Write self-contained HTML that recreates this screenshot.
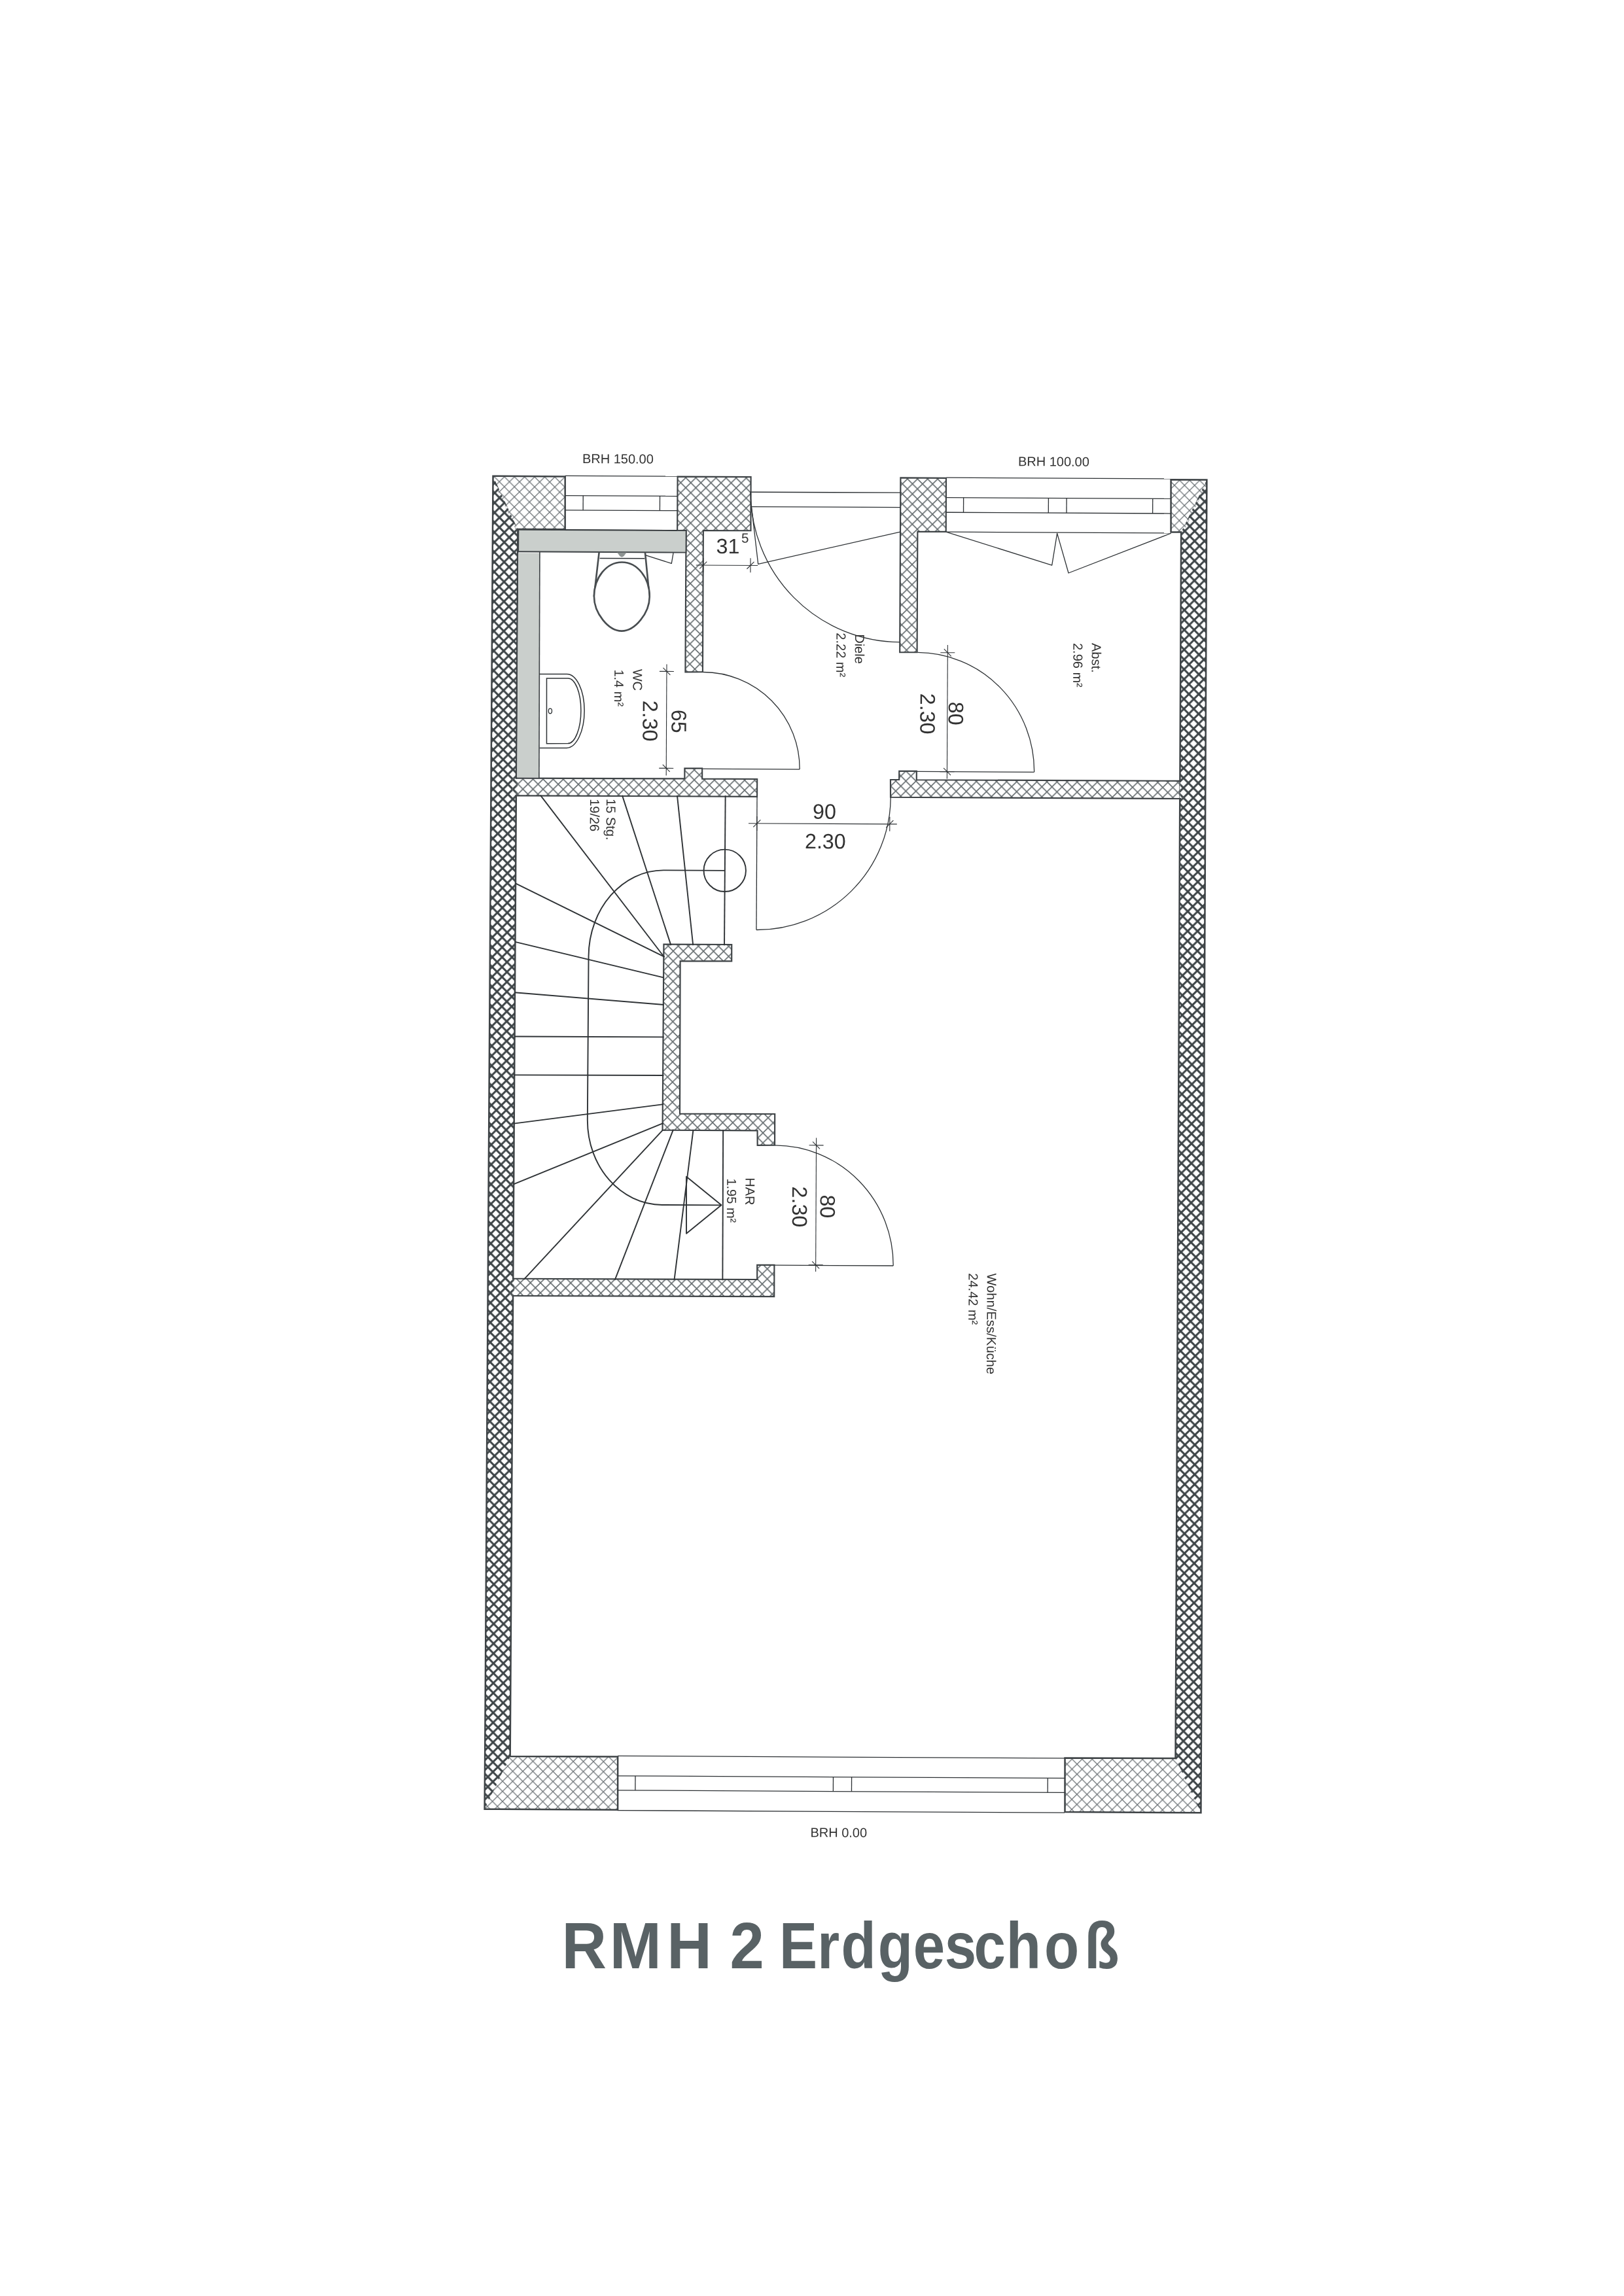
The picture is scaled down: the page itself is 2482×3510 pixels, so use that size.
<!DOCTYPE html>
<html lang="de"><head><meta charset="utf-8"><title>RMH 2 Erdgeschoß</title>
<style>html,body{margin:0;padding:0;background:#fff}body{width:2482px;height:3510px;overflow:hidden}svg{display:block}text.t{filter:none}text{filter:grayscale(1);font-family:"Liberation Sans",sans-serif;fill:#2f3336}</style>
</head><body>
<svg width="2482" height="3510" viewBox="0 0 2482 3510">
<defs>
<pattern id="ht" patternUnits="userSpaceOnUse" width="15.4" height="15.4" x="3" y="2"><path d="M0,0L15.4,15.4M15.4,0L0,15.4" stroke="#636a6d" stroke-width="1.55" fill="none"/></pattern>
<pattern id="ht2" patternUnits="userSpaceOnUse" width="15.4" height="15.4" x="3" y="2"><path d="M0,0L15.4,15.4M15.4,0L0,15.4" stroke="#6d7377" stroke-width="1.25" fill="none"/></pattern>
<pattern id="hhL" patternUnits="userSpaceOnUse" width="15.1" height="15.1" x="11.16" y="4.03"><path d="M0,0L15.1,15.1M15.1,0L0,15.1" stroke="#3d4447" stroke-width="3.0" fill="none"/></pattern>
<pattern id="hhR" patternUnits="userSpaceOnUse" width="15.1" height="15.1" x="9.24" y="11.71"><path d="M0,0L15.1,15.1M15.1,0L0,15.1" stroke="#3d4447" stroke-width="3.0" fill="none"/></pattern>
</defs>
<rect width="2482" height="3510" fill="#ffffff"/>
<g transform="translate(752.5,726.7) rotate(0.30)">
<polygon points="1,1.1 111.2,1.1 111.6,82 39.3,82 36,82 1,8.1" fill="url(#ht2)" stroke="none" stroke-width="2.4" stroke-linejoin="miter"/>
<polygon points="1037.1,1.1 1091.9,1.1 1092,8.1 1056.4,81.4 1053.1,81.4 1037.5,81.4" fill="url(#ht2)" stroke="none" stroke-width="2.4" stroke-linejoin="miter"/>
<polygon points="34.1,1958.1 37.4,1958.1 201.9,1957.8 202.3,2039 -1.2,2039 -1.3,2032" fill="url(#ht2)" stroke="none" stroke-width="2.4" stroke-linejoin="miter"/>
<polygon points="885.3,1956.3 1054.3,1955.9 1057.6,1955.9 1093.6,2031.8 1093.6,2038.8 885.7,2038.8" fill="url(#ht2)" stroke="none" stroke-width="2.4" stroke-linejoin="miter"/>
<polygon points="1,1.1 39.3,82 37.4,1958.1 -1.2,2039" fill="url(#hhL)" stroke="none" stroke-width="2.4" stroke-linejoin="miter"/>
<polygon points="1091.9,1.1 1093.6,2038.8 1054.3,1955.9 1053.1,81.4" fill="url(#hhR)" stroke="none" stroke-width="2.4" stroke-linejoin="miter"/>
<polygon points="111.2,1.1 1,1.1 -1.2,2039 202.3,2039 201.9,1957.8 37.4,1958.1 39.3,82 111.6,82" fill="none" stroke="#3e4346" stroke-width="2.5" stroke-linejoin="miter"/>
<polygon points="1037.1,1.1 1091.9,1.1 1093.6,2038.8 885.7,2038.8 885.3,1956.3 1054.3,1955.9 1053.1,81.4 1037.5,81.4" fill="none" stroke="#3e4346" stroke-width="2.5" stroke-linejoin="miter"/>
<polygon points="283.1,0.4 395.1,0.4 395.4,82.5 322.8,82.8 323,298.9 296.5,299.1 296.5,82.7 283.1,82.8" fill="url(#ht)" stroke="#3e4346" stroke-width="2.15" stroke-linejoin="miter"/>
<polygon points="623.9,0.4 693.5,0.5 693.7,82.5 650.3,82.7 650.5,267.1 624.1,267.2" fill="url(#ht)" stroke="#3e4346" stroke-width="2.15" stroke-linejoin="miter"/>
<rect x="33.7" y="463.9" width="7.5" height="24.4" fill="#ffffff"/>
<rect x="33.7" y="463.9" width="7.5" height="24.4" fill="url(#hhL)"/>
<polygon points="38.9,462.7 296.3,462.2 296.2,446.4 323,446.2 323.1,462.2 407.1,462.2 407.1,489 37.7,489.5" fill="url(#ht)" stroke="none"/>
<polyline points="38.9,462.7 296.3,462.2 296.2,446.4 323,446.2 323.1,462.2 407.1,462.2 407.1,489 37.7,489.5" fill="none" stroke="#3e4346" stroke-width="2.15" stroke-linejoin="miter"/>
<rect x="1052.7" y="462.8" width="6.3" height="24.8" fill="#ffffff"/>
<rect x="1052.7" y="462.8" width="6.3" height="24.8" fill="url(#hhR)"/>
<polygon points="1055.1,488.8 611.1,488.9 610.9,462.1 624.1,462 624.1,448.8 650.7,448.7 650.7,462.1 1054.9,461.6" fill="url(#ht)" stroke="none"/>
<polyline points="1055.1,488.8 611.1,488.9 610.9,462.1 624.1,462 624.1,448.8 650.7,448.7 650.7,462.1 1054.9,461.6" fill="none" stroke="#3e4346" stroke-width="2.15" stroke-linejoin="miter"/>
<polygon points="265.7,715.5 369.5,715.4 369.6,740.8 291,741 291.6,974.4 436.8,974 436.9,1021.8 410.5,1022 410.3,999.6 265.3,999.7" fill="url(#ht)" stroke="#3e4346" stroke-width="2.15" stroke-linejoin="miter"/>
<rect x="33.7" y="1229.1" width="6.3" height="23.8" fill="#ffffff"/>
<rect x="33.7" y="1229.1" width="6.3" height="23.8" fill="url(#hhL)"/>
<polygon points="37.7,1227.9 411.1,1227.2 411,1205 437.2,1204.8 437.3,1253.2 37.7,1254.1" fill="url(#ht)" stroke="none"/>
<polyline points="37.7,1227.9 411.1,1227.2 411,1205 437.2,1204.8 437.3,1253.2 37.7,1254.1" fill="none" stroke="#3e4346" stroke-width="2.15" stroke-linejoin="miter"/>
<polygon points="40.3,82.8 296.6,82.8 296.6,116.4 40.3,116.4" fill="#cacfcc" stroke="#3e4346" stroke-width="1.9" stroke-linejoin="miter"/>
<rect x="40.5" y="118.3" width="32.8" height="342.8" fill="#cacfcc"/>
<line x1="73" y1="116.9" x2="73.8" y2="461.9" stroke="#3e4346" stroke-width="1.6"/>
<line x1="111.2" y1="0" x2="282.8" y2="0" stroke="#2e3235" stroke-width="1.3"/>
<line x1="111.2" y1="30.3" x2="282.8" y2="30.3" stroke="#2e3235" stroke-width="1.3"/>
<line x1="111.2" y1="52.5" x2="282.8" y2="52.5" stroke="#2e3235" stroke-width="1.3"/>
<line x1="111.2" y1="82.6" x2="282.8" y2="82.6" stroke="#2e3235" stroke-width="1.3"/>
<line x1="138.9" y1="30.3" x2="138.9" y2="52.5" stroke="#2e3235" stroke-width="1.3"/>
<line x1="256.2" y1="30.3" x2="256.2" y2="52.5" stroke="#2e3235" stroke-width="1.3"/>
<line x1="694.1" y1="-0.2" x2="1037.1" y2="-0.2" stroke="#2e3235" stroke-width="1.3"/>
<line x1="694.1" y1="30.3" x2="1037.1" y2="30.3" stroke="#2e3235" stroke-width="1.3"/>
<line x1="694.1" y1="52.9" x2="1037.1" y2="52.9" stroke="#2e3235" stroke-width="1.3"/>
<line x1="694.1" y1="82.8" x2="1037.1" y2="82.8" stroke="#2e3235" stroke-width="1.3"/>
<line x1="720.3" y1="30.3" x2="720.3" y2="52.9" stroke="#2e3235" stroke-width="1.3"/>
<line x1="850.1" y1="30.3" x2="850.1" y2="52.9" stroke="#2e3235" stroke-width="1.3"/>
<line x1="877.8" y1="30.3" x2="877.8" y2="52.9" stroke="#2e3235" stroke-width="1.3"/>
<line x1="1009.4" y1="30.3" x2="1009.4" y2="52.9" stroke="#2e3235" stroke-width="1.3"/>
<line x1="201.8" y1="1956.6" x2="885.2" y2="1956.6" stroke="#2e3235" stroke-width="1.3"/>
<line x1="201.8" y1="1987.1" x2="885.2" y2="1987.1" stroke="#2e3235" stroke-width="1.3"/>
<line x1="201.8" y1="2009.1" x2="885.2" y2="2009.1" stroke="#2e3235" stroke-width="1.3"/>
<line x1="201.8" y1="2039.9" x2="885.2" y2="2039.9" stroke="#2e3235" stroke-width="1.3"/>
<line x1="228.9" y1="1987.1" x2="228.9" y2="2009.1" stroke="#2e3235" stroke-width="1.3"/>
<line x1="531.4" y1="1987.1" x2="531.4" y2="2009.1" stroke="#2e3235" stroke-width="1.3"/>
<line x1="559.5" y1="1987.1" x2="559.5" y2="2009.1" stroke="#2e3235" stroke-width="1.3"/>
<line x1="859.2" y1="1987.1" x2="859.2" y2="2009.1" stroke="#2e3235" stroke-width="1.3"/>
<line x1="395.9" y1="23.5" x2="623.6" y2="23.2" stroke="#2e3235" stroke-width="1.3"/>
<line x1="396" y1="45.9" x2="623.7" y2="45.6" stroke="#2e3235" stroke-width="1.3"/>
<path d="M394.8,22.6 A229.2,229 0 0 0 624,251.6" fill="none" stroke="#2e3235" stroke-width="1.3"/>
<polyline points="396.3,46.6 406.9,133.5 623.9,83.2" fill="none" stroke="#2e3235" stroke-width="1.3" stroke-linejoin="round"/>
<path d="M324,299.1 A148,147.8 0 0 1 472,446.9" fill="none" stroke="#2e3235" stroke-width="1.3"/>
<line x1="324" y1="446.9" x2="472" y2="446.9" stroke="#2e3235" stroke-width="1.3"/>
<path d="M651.3,267.3 A179.2,182 0 0 1 830.5,449.3" fill="none" stroke="#2e3235" stroke-width="1.3"/>
<line x1="651.3" y1="449.3" x2="830.5" y2="449.3" stroke="#2e3235" stroke-width="1.3"/>
<line x1="407.1" y1="489.1" x2="407.1" y2="692.7" stroke="#2e3235" stroke-width="1.3"/>
<path d="M407.1,692.7 A204.2,203.6 0 0 0 611.3,489.1" fill="none" stroke="#2e3235" stroke-width="1.3"/>
<path d="M437.5,1021.9 A181.5,183.2 0 0 1 619,1205.1" fill="none" stroke="#2e3235" stroke-width="1.3"/>
<line x1="437.5" y1="1205.1" x2="619" y2="1205.1" stroke="#2e3235" stroke-width="1.3"/>
<polyline points="694.5,83.1 855.9,132.9 863.6,84.2 881.3,144.7 1037.7,83.1" fill="none" stroke="#2e3235" stroke-width="1.3" stroke-linejoin="round"/>
<line x1="312" y1="135.7" x2="406.4" y2="135.6" stroke="#2e3235" stroke-width="1.1"/>
<line x1="323" y1="124.6" x2="323" y2="146.6" stroke="#2e3235" stroke-width="1.1"/>
<line x1="317.5" y1="141.1" x2="328.5" y2="130.1" stroke="#2e3235" stroke-width="1.1"/>
<line x1="395.2" y1="124.5" x2="395.2" y2="146.5" stroke="#2e3235" stroke-width="1.1"/>
<line x1="389.7" y1="141" x2="400.7" y2="130" stroke="#2e3235" stroke-width="1.1"/>
<line x1="268" y1="287.4" x2="268.1" y2="457.5" stroke="#2e3235" stroke-width="1.1"/>
<line x1="257" y1="298.3" x2="279" y2="298.3" stroke="#2e3235" stroke-width="1.1"/>
<line x1="262.5" y1="292.8" x2="273.5" y2="303.8" stroke="#2e3235" stroke-width="1.1"/>
<line x1="257.1" y1="446.3" x2="279.1" y2="446.3" stroke="#2e3235" stroke-width="1.1"/>
<line x1="262.6" y1="440.8" x2="273.6" y2="451.8" stroke="#2e3235" stroke-width="1.1"/>
<line x1="697.2" y1="255.7" x2="697.3" y2="460.1" stroke="#2e3235" stroke-width="1.1"/>
<line x1="686.2" y1="267.4" x2="708.2" y2="267.4" stroke="#2e3235" stroke-width="1.1"/>
<line x1="691.7" y1="261.9" x2="702.7" y2="272.9" stroke="#2e3235" stroke-width="1.1"/>
<line x1="686.4" y1="449.3" x2="708.4" y2="449.3" stroke="#2e3235" stroke-width="1.1"/>
<line x1="691.9" y1="443.8" x2="702.9" y2="454.8" stroke="#2e3235" stroke-width="1.1"/>
<line x1="394.3" y1="530" x2="621.1" y2="529.9" stroke="#2e3235" stroke-width="1.1"/>
<line x1="407.1" y1="519.1" x2="407.1" y2="541.1" stroke="#2e3235" stroke-width="1.1"/>
<line x1="401.6" y1="535.6" x2="412.6" y2="524.6" stroke="#2e3235" stroke-width="1.1"/>
<line x1="610.1" y1="518.8" x2="610.1" y2="540.8" stroke="#2e3235" stroke-width="1.1"/>
<line x1="604.6" y1="535.3" x2="615.6" y2="524.3" stroke="#2e3235" stroke-width="1.1"/>
<line x1="500.4" y1="1010.3" x2="500.5" y2="1214.7" stroke="#2e3235" stroke-width="1.1"/>
<line x1="489.4" y1="1021.5" x2="511.4" y2="1021.5" stroke="#2e3235" stroke-width="1.1"/>
<line x1="494.9" y1="1016" x2="505.9" y2="1027" stroke="#2e3235" stroke-width="1.1"/>
<line x1="489.5" y1="1204.5" x2="511.5" y2="1204.5" stroke="#2e3235" stroke-width="1.1"/>
<line x1="495" y1="1199" x2="506" y2="1210" stroke="#2e3235" stroke-width="1.1"/>
<line x1="75.9" y1="488.6" x2="266.6" y2="735.2" stroke="#2e3235" stroke-width="1.9"/>
<line x1="201" y1="488.1" x2="276.7" y2="717" stroke="#2e3235" stroke-width="1.9"/>
<line x1="285" y1="487.9" x2="310.5" y2="716.9" stroke="#2e3235" stroke-width="1.9"/>
<line x1="358.7" y1="487.7" x2="358.3" y2="716.8" stroke="#2e3235" stroke-width="1.9"/>
<line x1="38.5" y1="623.4" x2="267" y2="734.7" stroke="#2e3235" stroke-width="1.9"/>
<line x1="38.5" y1="713" x2="266.3" y2="766.6" stroke="#2e3235" stroke-width="1.9"/>
<line x1="38.2" y1="790.4" x2="266.4" y2="807.9" stroke="#2e3235" stroke-width="1.9"/>
<line x1="38.2" y1="857.6" x2="266.6" y2="857.3" stroke="#2e3235" stroke-width="1.9"/>
<line x1="38.2" y1="916.5" x2="266.7" y2="915.9" stroke="#2e3235" stroke-width="1.9"/>
<line x1="38.1" y1="990.7" x2="266.7" y2="960" stroke="#2e3235" stroke-width="1.9"/>
<line x1="38.1" y1="1083.5" x2="266.6" y2="988.8" stroke="#2e3235" stroke-width="1.9"/>
<line x1="54.7" y1="1229" x2="266.3" y2="998.7" stroke="#2e3235" stroke-width="1.9"/>
<line x1="193.7" y1="1228.9" x2="281.8" y2="998.5" stroke="#2e3235" stroke-width="1.9"/>
<line x1="284.4" y1="1228.8" x2="312.3" y2="998.5" stroke="#2e3235" stroke-width="1.9"/>
<line x1="358.3" y1="1228.6" x2="357.9" y2="998.4" stroke="#2e3235" stroke-width="1.9"/>
<circle cx="358.4" cy="602.3" r="32.2" fill="none" stroke="#2e3235" stroke-width="1.9"/>
<path d="M358.4,602.3 L265.2,602.3 C202.1,602.3 150.9,661.5 150.9,734.5 L150.5,984.5 C150.5,1056 201.9,1113.9 265.3,1113.9 L355.8,1113.8" fill="none" stroke="#2e3235" stroke-width="1.9"/>
<polygon points="355.8,1113.8 302.1,1070.5 302.6,1157.5" fill="none" stroke="#2e3235" stroke-width="1.9" stroke-linejoin="round"/>
<polyline points="163.8,116.4 156.3,184.5" fill="none" stroke="#484d50" stroke-width="2.6" stroke-linejoin="round"/>
<polyline points="234,116.3 241.1,184" fill="none" stroke="#484d50" stroke-width="2.6" stroke-linejoin="round"/>
<line x1="164.8" y1="125.9" x2="233.5" y2="125.8" stroke="#2e3235" stroke-width="1.6"/>
<path d="M198.8,131.7 C222.2,131.7 241.2,155.2 241.2,184.3 C241.2,209.5 219.1,236.9 198.8,236.9 C178.4,236.9 156.4,209.5 156.4,184.3 C156.4,155.2 175.3,131.7 198.8,131.7Z" fill="#ffffff" stroke="#484d50" stroke-width="2.6"/>
<polyline points="235.1,120.9 274.5,133.3 277.2,116.9" fill="none" stroke="#2e3235" stroke-width="1.3" stroke-linejoin="round"/>
<polygon points="191.3,116.9 205.7,116.8 201.5,122.4 198.6,123.9 195.5,122.5" fill="#8d9392" stroke="none" stroke-width="0" stroke-linejoin="miter"/>
<path d="M73.9,303.3 L115.1,303.1 A27.1,56.5 0 0 1 115.7,416.1 L74.5,416.3" fill="none" stroke="#2e3235" stroke-width="1.5"/>
<path d="M84.6,309.8 L117.1,309.6 A19.9,49.8 0 0 1 117.6,409.3 L85.1,409.5 Z" fill="none" stroke="#2e3235" stroke-width="1.5"/>
<ellipse cx="90.3" cy="359.8" rx="2.6" ry="3.8" fill="none" stroke="#2e3235" stroke-width="1.3"/>
<text x="496.8" y="2078.9" font-size="20.0" text-anchor="start">BRH 0.00</text>
<text x="137.3" y="-19.4" font-size="20.0" text-anchor="start">BRH 150.00</text>
<text x="803.3" y="-18.7" font-size="20.0" text-anchor="start">BRH 100.00</text>
<text x="342.7" y="117.5" font-size="32.2" text-anchor="start">31</text>
<text x="381" y="100.7" font-size="20.5" text-anchor="start">5</text>
<text x="510.2" y="522.5" font-size="32.2" text-anchor="middle">90</text>
<text x="511.8" y="567.8" font-size="32.2" text-anchor="middle">2.30</text>
<text transform="translate(216.6,294.9) rotate(90)" font-size="20.0">WC</text>
<text transform="translate(188.2,295.7) rotate(90)" font-size="20.0">1.4 m²</text>
<text transform="translate(232,342.9) rotate(90)" font-size="32.2">2.30</text>
<text transform="translate(275.9,356.6) rotate(90)" font-size="32.2">65</text>
<text transform="translate(555.7,239.6) rotate(90)" font-size="20.0">Diele</text>
<text transform="translate(527.3,237.9) rotate(90)" font-size="20.0">2.22 m²</text>
<text transform="translate(655.9,329.7) rotate(90)" font-size="32.2">2.30</text>
<text transform="translate(699.2,342.4) rotate(90)" font-size="32.2">80</text>
<text transform="translate(917.6,251.5) rotate(90)" font-size="20.0">Abst.</text>
<text transform="translate(889.4,251.6) rotate(90)" font-size="20.0">2.96 m²</text>
<text transform="translate(177,493.5) rotate(90)" font-size="20.0">15 Stg.</text>
<text transform="translate(152.1,493.7) rotate(90)" font-size="20.0">19/26</text>
<text transform="translate(392.6,1071.6) rotate(90)" font-size="20.0">HAR</text>
<text transform="translate(364.4,1072.8) rotate(90)" font-size="20.0">1.95 m²</text>
<text transform="translate(464.3,1084.5) rotate(90)" font-size="32.2">2.30</text>
<text transform="translate(507,1097.1) rotate(90)" font-size="32.2">80</text>
<text transform="translate(762.6,1215.7) rotate(90)" font-size="20.0" textLength="154.6" lengthAdjust="spacingAndGlyphs">Wohn/Ess/Küche</text>
<text transform="translate(734.5,1215.8) rotate(90)" font-size="20.0">24.42 m²</text>
</g>
<text class="t" transform="scale(0.95,1)" x="903.8 980.7 1073.0" y="3009" font-size="100.0" font-weight="bold" style="fill:#596265">RMH</text>
<text class="t" transform="scale(0.94,1)" x="1186.7" y="3009" font-size="100.0" font-weight="bold" style="fill:#596265">2</text>
<text class="t" transform="scale(0.87,1)" x="1369.0 1436.0 1477.5 1542.4 1604.2 1659.4 1711.0 1767.4 1834.6 1905.0" y="3009" font-size="100.0" font-weight="bold" style="fill:#596265">Erdgeschoß</text>
</svg></body></html>
